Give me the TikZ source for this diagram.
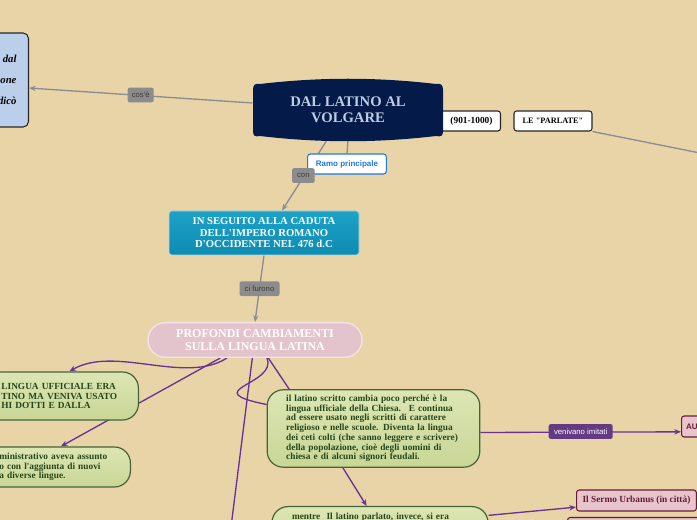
\documentclass[tikz,border=0pt]{standalone}
\usepackage{fontspec}
\setmainfont{Liberation Serif}[Ligatures=TeXOff]
\newfontfamily\labelfont{Liberation Sans}
\usetikzlibrary{positioning, calc, arrows.meta, backgrounds}

\definecolor{tanbg}{RGB}{233,212,168}
\definecolor{bluefill}{RGB}{187,207,235}
\definecolor{navy}{RGB}{4,26,72}
\definecolor{titletext}{RGB}{190,205,228}
\definecolor{tealtop}{RGB}{28,162,200}
\definecolor{tealbot}{RGB}{14,140,178}
\definecolor{tealline}{RGB}{175,215,228}
\definecolor{pinkmain}{RGB}{228,196,204}
\definecolor{pinkline}{RGB}{242,228,230}
\definecolor{greentop}{RGB}{220,230,180}
\definecolor{greenbot}{RGB}{200,214,150}
\definecolor{greenline}{RGB}{70,100,55}
\definecolor{greentext}{RGB}{40,70,25}
\definecolor{pinkfill}{RGB}{232,196,205}
\definecolor{maroon}{RGB}{100,30,50}
\definecolor{ramoblue}{RGB}{30,120,225}
\definecolor{linegray}{RGB}{140,140,148}
\definecolor{taggray}{RGB}{140,140,140}
\definecolor{tagtext}{RGB}{60,60,60}
\definecolor{linepurple}{RGB}{105,50,150}
\definecolor{tagpurple}{RGB}{100,58,130}

\begin{document}
\begin{tikzpicture}[x=0.75pt, y=-0.75pt, thick, >={Stealth[length=5pt,width=4pt]}]
        % Define block styles
        \tikzstyle{block} = [rectangle, draw, align=center, font=\bfseries]
        \tikzstyle{greenblock} = [rectangle, draw=greenline, line width=0.9pt, top color=greentop, bottom color=greenbot, rounded corners=12pt, text=greentext, align=left, font=\bfseries\fontsize{7}{7.3}\selectfont]
        \tikzstyle{pinkblock} = [rectangle, draw=maroon, line width=0.8pt, fill=pinkfill, rounded corners=2pt, text=maroon, font=\bfseries\fontsize{7}{8}\selectfont]
        \tikzstyle{tag} = [rectangle, fill=taggray, rounded corners=1.5pt, inner sep=0pt, minimum height=11pt, text=tagtext, font=\labelfont\fontsize{5.8}{6}\selectfont]
        \tikzstyle{grayline} = [draw=linegray, line width=1pt]
        \tikzstyle{purpleline} = [draw=linepurple, line width=1pt]

        \useasboundingbox (0,0) rectangle (697,520);
        \begin{scope}[on background layer]
            \fill [tanbg] (0,0) rectangle (697,520);
        \end{scope}

        % Place nodes
        \node [block, anchor=east, draw=black!85, fill=bluefill, rounded corners=4pt, text width=90pt, inner xsep=9pt, minimum height=70.5pt, align=right, font=\bfseries\itshape\fontsize{8}{15.75}\selectfont] (definition) at (29,80) {dal\\one\\dicò};
        \node [block, anchor=east, draw=black!85, fill=white, rounded corners=2pt, text width=48.75pt, inner xsep=6pt, minimum height=15pt, align=right, font=\bfseries\fontsize{7}{8}\selectfont] (era) at (501,121) {(901-1000)};
        % title shape with curved top and bottom
        \fill [navy] (253,90) -- (253,131) .. controls (253,136) and (255,137) .. (260,136) .. controls (320,143) and (376,143) .. (436,136) .. controls (441,137) and (443,136) .. (443,131) -- (443,90) .. controls (443,85) and (441,83) .. (436,84) .. controls (376,77) and (320,77) .. (260,84) .. controls (255,83) and (253,85) .. (253,90) -- cycle;
        \node [block, draw=none, text=titletext, minimum width=142.5pt, minimum height=45pt, font=\bfseries\fontsize{11}{12}\selectfont] (main) at (348,110) {DAL LATINO AL\\VOLGARE};
        \node [block, draw=black!85, fill=white, rounded corners=2pt, minimum width=58.5pt, minimum height=15pt, font=\bfseries\fontsize{6.2}{7}\selectfont] (parlate) at (553,121) {LE "PARLATE"};
        \node [block, draw=ramoblue, line width=0.8pt, fill=white, rounded corners=2pt, text=ramoblue, minimum width=59pt, minimum height=15pt, font=\labelfont\bfseries\fontsize{6}{7}\selectfont] (ramo) at (347,164) {Ramo principale};
        \node [block, draw=tealline, line width=0.6pt, top color=tealtop, bottom color=tealbot, text=white, rounded corners=2pt, minimum width=142.5pt, minimum height=33pt, font=\bfseries\fontsize{8}{8.6}\selectfont] (caduta) at (264,233) {IN SEGUITO ALLA CADUTA\\DELL'IMPERO ROMANO\\D'OCCIDENTE NEL 476 d.C};
        \node [block, draw=pinkline, line width=1pt, fill=pinkmain, text=white, rounded corners=13pt, minimum width=160.5pt, minimum height=26pt, font=\bfseries\fontsize{9}{9.8}\selectfont] (cambiamenti) at (255,340) {PROFONDI CAMBIAMENTI\\SULLA LINGUA LATINA};
        \node [greenblock, anchor=east, text width=90.75pt, inner xsep=12pt, minimum height=36pt] (ufficiale) at (139,396) {LINGUA UFFICIALE ERA\\TINO MA VENIVA USATO\\HI DOTTI E DALLA};
        \node [greenblock, anchor=east, text width=86.25pt, inner xsep=12pt, minimum height=30pt] (amministrativo) at (131,467) {ministrativo aveva assunto\\o con l'aggiunta di nuovi\\a diverse lingue.};
        \node [greenblock, text width=131pt, inner xsep=14.25pt, minimum height=58pt] (scritto) at (373.5,428.5) {il latino scritto cambia poco perché è la\\lingua ufficiale della Chiesa.~ E continua\\ad essere usato negli scritti di carattere\\religioso e nelle scuole. Diventa la lingua\\dei ceti colti (che sanno leggere e scrivere)\\della popolazione, cioè degli uomini di\\chiesa e di alcuni signori feudali.};
        \node [greenblock, anchor=north, text width=132pt, inner xsep=15pt, inner ysep=5pt, text height=5pt, text depth=20pt] (parlato) at (380,506) {mentre~ Il latino parlato, invece, si era};
        \node [pinkblock, anchor=west, inner xsep=4.5pt, minimum height=15.75pt] (urbanus) at (576,500.5) {Il Sermo Urbanus (in città)};
        \node [pinkblock, anchor=north west, minimum width=100pt, minimum height=20pt] (nextsermo) at (567,517) {};
        \node [pinkblock, anchor=west, inner xsep=3.5pt, minimum height=15.75pt, font=\labelfont\bfseries\fontsize{6}{7}\selectfont] (autori) at (681,426.5) {AU};
        \coordinate (offright) at (700,153);
        \coordinate (offbottom) at (230,535);

        % Draw connections as arrows
        \begin{scope}[on background layer]
            \draw [->, grayline] ([yshift=5.25pt]main.west) -- ([yshift=-6pt]definition.east);
            \draw [grayline] (main.south) -- (ramo.north);
            \draw [->, grayline] ([xshift=-16pt]main.south) -- ([xshift=13.5pt]caduta.north);
            \draw [->, grayline] (caduta.south) -- (cambiamenti.north);
            \draw [grayline] (parlate.south east) -- (offright);
            \draw [->, purpleline] ([xshift=-26pt]cambiamenti.south) -- ([xshift=3pt]amministrativo.north);
            \draw [->, purpleline] ([xshift=-21pt]cambiamenti.south) .. controls (185,385) and (115,345) .. ([xshift=5.6pt]ufficiale.north);
            \draw [purpleline] ([xshift=-2pt]cambiamenti.south) -- (offbottom);
            \draw [purpleline] ([xshift=9pt]cambiamenti.south) .. controls (278,385) and (195,390) .. ([yshift=18pt]scritto.west);
            \draw [purpleline] ([xshift=10pt]cambiamenti.south) -- ([xshift=17pt]scritto.north west);
            \draw [->, purpleline] ([yshift=-3pt]scritto.east) -- ([yshift=-4pt]autori.west);
            \draw [->, purpleline] ([xshift=-23pt]scritto.south) -- ([xshift=-10pt]parlato.north);
            \draw [->, purpleline] ([yshift=-7pt]parlato.north east) -- ([yshift=-5pt]urbanus.west);
        \end{scope}

        % Add text on the arrows
        \node [tag, minimum width=19.5pt] (cose) at ($(main.west)!0.5!(definition.east)$) {cos'è};
        \node [tag, minimum width=17pt, xshift=-2pt] (con) at ($(main.south)!0.5!(caduta.north)$) {con};
        \node [tag, minimum width=30pt] (furono) at ($(caduta.south)!0.5!(cambiamenti.north)$) {ci furono};
        \node [tag, minimum width=48pt, fill=tagpurple, text=white, yshift=-3pt] (imitati) at ($(scritto.east)!0.5!(autori.west)$) {venivano imitati};

    \end{tikzpicture}
\end{document}
